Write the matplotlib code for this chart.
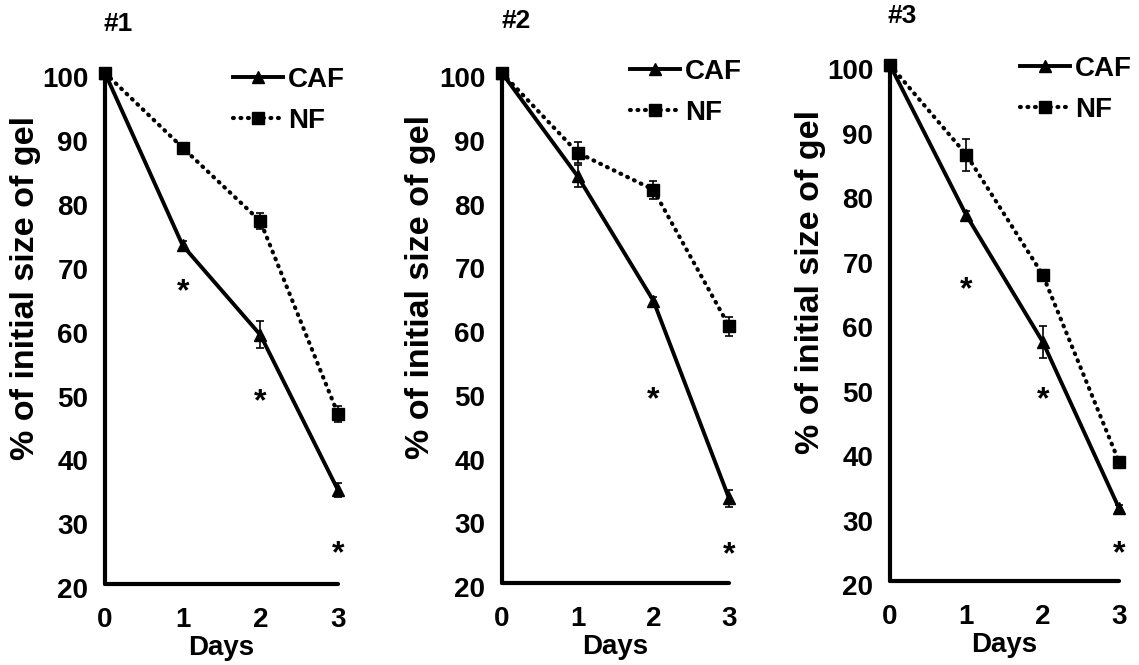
import matplotlib
matplotlib.use('Agg')
import matplotlib.pyplot as plt
import matplotlib.transforms as mtransforms

plt.rcParams['font.family'] = ['Liberation Sans', 'DejaVu Sans']
plt.rcParams['font.weight'] = 'bold'

days = [0, 1, 2, 3]
panel_titles = ['#1', '#2', '#3']
y_ticks = [20, 30, 40, 50, 60, 70, 80, 90, 100]

# % of initial gel size
caf_1 = [100, 73.0, 59.0, 34.7]
caf_1_err = [0, 0.7, 2.1, 1.1]
nf_1 = [100, 88.3, 76.8, 46.6]
nf_1_err = [0, 0.6, 1.3, 1.3]

caf_2 = [100, 83.8, 64.3, 33.3]
caf_2_err = [0, 1.7, 0.6, 1.3]
nf_2 = [100, 87.5, 81.7, 60.3]
nf_2_err = [0, 1.6, 1.4, 1.5]

caf_3 = [100, 76.7, 57.1, 31.3]
caf_3_err = [0, 0.6, 2.5, 0.5]
nf_3 = [100, 86.1, 67.5, 38.5]
nf_3_err = [0, 2.5, 0.5, 0.4]

# significance stars (day, height)
star_days_1 = [1, 2, 3]
star_y_1 = [67.3, 50.0, 26.2]
star_days_2 = [2, 3]
star_y_2 = [50.2, 25.9]
star_days_3 = [1, 2, 3]
star_y_3 = [66.7, 49.6, 25.7]

panels = [
    (caf_1, caf_1_err, nf_1, nf_1_err, star_days_1, star_y_1),
    (caf_2, caf_2_err, nf_2, nf_2_err, star_days_2, star_y_2),
    (caf_3, caf_3_err, nf_3, nf_3_err, star_days_3, star_y_3),
]

W, H = 1139, 665
fig = plt.figure(figsize=(W / 100, H / 100), dpi=100)

# axes boxes in pixels: left, right, y of 100, y of 20
boxes = [(105, 338, 73, 584), (502, 729, 73, 583), (890, 1119, 65, 581)]
legend_xy = [(0.549, 1.012), (0.564, 1.028), (0.568, 1.018)]
ylabel_x = [-0.275, -0.291, -0.279]
title_xy = [(103, 24), (502, 21), (888, 16)]

fs = 20

for i, (caf, caf_err, nf, nf_err, sdays, sy) in enumerate(panels):
    l, r, t, b = boxes[i]
    ax = fig.add_axes([l / W, (H - b) / H, (r - l) / W, (b - t) / H])

    ax.errorbar(days, caf, yerr=caf_err, fmt='none', ecolor='black',
                elinewidth=1.2, capsize=3, capthick=1.2, clip_on=False)
    ax.errorbar(days, nf, yerr=nf_err, fmt='none', ecolor='black',
                elinewidth=1.2, capsize=3, capthick=1.2, clip_on=False)
    ax.plot(days, caf, color='black', lw=2.8, marker='^', markersize=8.5,
            label='CAF', clip_on=False, zorder=4)
    ax.plot(days, nf, color='black', lw=3, linestyle=(0, (0.2, 1.6)),
            dash_capstyle='round', marker='s', markersize=8.5, label='NF',
            clip_on=False, zorder=3)

    for d, y in zip(sdays, sy):
        ax.annotate('*', (d, y), xytext=(0, -13), textcoords='offset points',
                    ha='center', va='baseline', fontsize=23, fontweight='bold')

    ax.set_xlim(0, 3)
    ax.set_ylim(20, 100)
    ax.set_xticks(days)
    ax.set_yticks(y_ticks)
    ax.tick_params(length=0, labelsize=fs)
    ax.tick_params(axis='y', pad=12)
    ax.tick_params(axis='x', pad=16.5)
    # excel draws y labels a little low
    shift = mtransforms.ScaledTranslation(0, -3 / 72, fig.dpi_scale_trans)
    for lab in ax.get_yticklabels():
        lab.set_transform(lab.get_transform() + shift)

    for s in ['top', 'right']:
        ax.spines[s].set_visible(False)
    for s in ['left', 'bottom']:
        ax.spines[s].set_linewidth(3)
        ax.spines[s].set_capstyle('round')

    ax.set_xlabel('Days', fontsize=fs, fontweight='bold', labelpad=1.5)
    ax.set_ylabel('% of initial size of gel', fontsize=24.5, fontweight='bold')
    ax.yaxis.set_label_coords(ylabel_x[i], 0.58)

    ax.legend(loc='upper left', bbox_to_anchor=legend_xy[i], frameon=False,
              borderpad=0, borderaxespad=0, handlelength=1.8,
              handletextpad=0.19, labelspacing=0.55,
              prop={'weight': 'bold', 'size': fs})

    tx, ty = title_xy[i]
    fig.text(tx / W, 1 - ty / H, panel_titles[i], ha='left', va='center',
             fontsize=19, fontweight='bold')

fig.savefig('out.png', dpi=100)
